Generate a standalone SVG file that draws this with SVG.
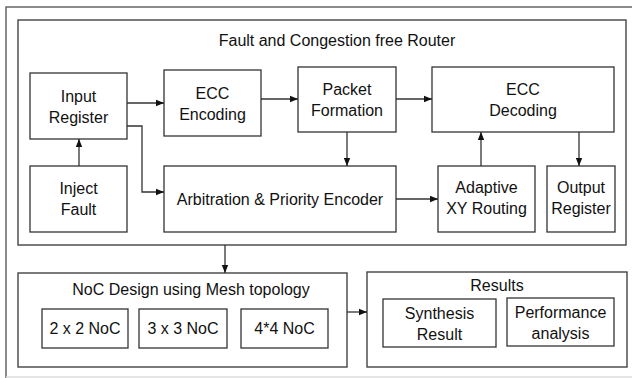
<svg xmlns="http://www.w3.org/2000/svg" width="632" height="378" viewBox="0 0 632 378">
  <style>
    .box { fill: #ffffff; stroke: #333333; stroke-width: 1.3; }
    .edge { fill: none; stroke: #666666; stroke-width: 1.5; }
    .grp { fill: none; stroke: #444444; stroke-width: 1.4; }
    .lbl { font-family: "Liberation Sans", Arial, sans-serif; font-size: 16px; fill: #111111; text-anchor: middle; }
    .wire { fill: none; stroke: #333333; stroke-width: 1.3; marker-end: url(#head); }
  </style>
  <defs>
    <marker id="head" viewBox="0 0 8 8" refX="8" refY="4" markerWidth="8" markerHeight="8" markerUnits="userSpaceOnUse" orient="auto">
      <path d="M0,0.8 L8,4 L0,7.2 Z" fill="#111111"/>
    </marker>
  </defs>

  <rect x="0" y="0" width="632" height="378" fill="#ffffff"/>
  <!-- page frame -->
  <path class="edge" d="M6,378 V7 H632"/>
  <path d="M6,377 H632" stroke="#dddddd" stroke-width="1.5"/>

  <!-- router container -->
  <g id="router">
    <rect class="grp" x="18" y="20" width="608" height="225"/>
    <text class="lbl" x="337" y="46">Fault and Congestion free Router</text>
  </g>

  <g id="input-register">
    <rect class="box" x="30" y="73" width="97" height="66"/>
    <text class="lbl" x="78.5" y="101.5">Input</text>
    <text class="lbl" x="78.5" y="122.5">Register</text>
  </g>
  <g id="ecc-encoding">
    <rect class="box" x="164" y="70" width="97" height="66"/>
    <text class="lbl" x="212.5" y="98.5">ECC</text>
    <text class="lbl" x="212.5" y="119.5">Encoding</text>
  </g>
  <g id="packet-formation">
    <rect class="box" x="298" y="67" width="98" height="65"/>
    <text class="lbl" x="347" y="95">Packet</text>
    <text class="lbl" x="347" y="116">Formation</text>
  </g>
  <g id="ecc-decoding">
    <rect class="box" x="432" y="67" width="182" height="65"/>
    <text class="lbl" x="523" y="95">ECC</text>
    <text class="lbl" x="523" y="116">Decoding</text>
  </g>
  <g id="inject-fault">
    <rect class="box" x="30" y="166" width="97" height="66"/>
    <text class="lbl" x="78.5" y="194">Inject</text>
    <text class="lbl" x="78.5" y="215">Fault</text>
  </g>
  <g id="arbitration">
    <rect class="box" x="164" y="166" width="232" height="66"/>
    <text class="lbl" x="280" y="204.5">Arbitration &amp; Priority Encoder</text>
  </g>
  <g id="adaptive-routing">
    <rect class="box" x="438" y="166" width="97" height="66"/>
    <text class="lbl" x="486.5" y="193">Adaptive</text>
    <text class="lbl" x="486.5" y="214">XY Routing</text>
  </g>
  <g id="output-register">
    <rect class="box" x="547" y="166" width="68" height="66"/>
    <text class="lbl" x="581" y="193">Output</text>
    <text class="lbl" x="581" y="214">Register</text>
  </g>

  <!-- NoC design container -->
  <g id="noc-design">
    <rect class="grp" x="18" y="273" width="329" height="94"/>
    <text class="lbl" x="191" y="294.5">NoC Design using Mesh topology</text>
  </g>
  <g id="noc-2x2">
    <rect class="box" x="42" y="309" width="86" height="39"/>
    <text class="lbl" x="85" y="334">2 x 2 NoC</text>
  </g>
  <g id="noc-3x3">
    <rect class="box" x="139" y="309" width="88" height="39"/>
    <text class="lbl" x="183" y="334">3 x 3 NoC</text>
  </g>
  <g id="noc-4x4">
    <rect class="box" x="241" y="309" width="87" height="39"/>
    <text class="lbl" x="284.5" y="334">4*4 NoC</text>
  </g>

  <!-- results container -->
  <g id="results">
    <rect class="grp" x="367" y="272" width="260" height="95"/>
    <text class="lbl" x="497" y="291">Results</text>
  </g>
  <g id="synthesis-result">
    <rect class="box" x="383" y="299" width="113" height="48"/>
    <text class="lbl" x="439.5" y="318.5">Synthesis</text>
    <text class="lbl" x="439.5" y="339.5">Result</text>
  </g>
  <g id="performance-analysis">
    <rect class="box" x="507" y="298" width="107" height="48"/>
    <text class="lbl" x="560.5" y="317.5">Performance</text>
    <text class="lbl" x="560.5" y="338.5">analysis</text>
  </g>

  <!-- connectors -->
  <g id="connectors">
    <path class="wire" d="M127,103 H164"/>
    <path class="wire" d="M261,99 H298"/>
    <path class="wire" d="M396,99 H432"/>
    <path class="wire" d="M347,132 V166"/>
    <path class="wire" d="M79,166 V139"/>
    <path class="wire" d="M127,126 H142 V192 H164"/>
    <path class="wire" d="M396,199 H438"/>
    <path class="wire" d="M481,166 V132"/>
    <path class="wire" d="M579,132 V166"/>
    <path class="wire" d="M225,245 V273"/>
    <path class="wire" d="M347,312 H367"/>
  </g>
</svg>
